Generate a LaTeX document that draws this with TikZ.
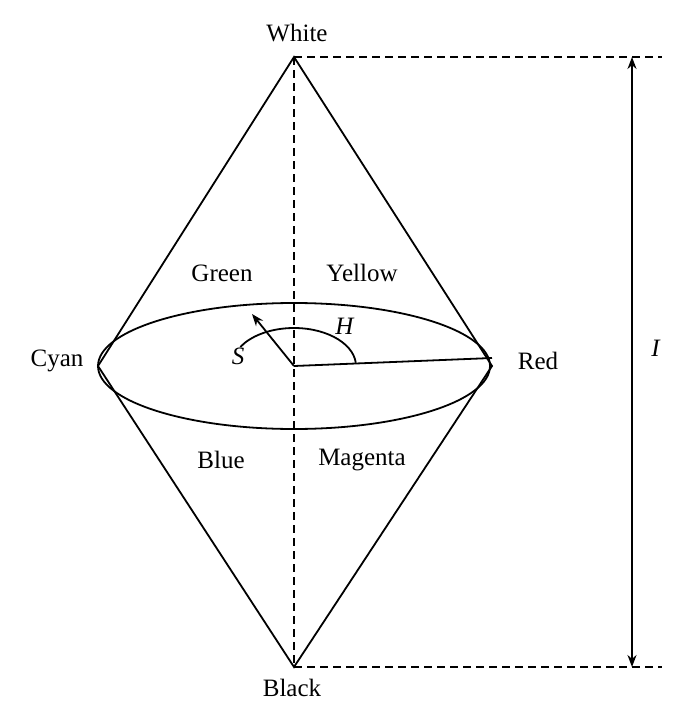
\documentclass[tikz,border=0pt]{standalone}
\usepackage{fontspec}
\setmainfont{Liberation Serif}
\usetikzlibrary{arrows.meta,calc}
\begin{document}
\begin{tikzpicture}[x=1pt,y=-1pt,
  lbl/.style={font=\fontsize{25}{28}\selectfont,inner sep=0pt},
  ln/.style={line width=1.8pt,black},
  dsh/.style={line width=1.5pt,dashed,dash pattern=on 8pt off 5pt}]
\useasboundingbox (0,0) rectangle (688,717);
\coordinate (W) at (294,57);
\coordinate (B) at (294,667);
\coordinate (O) at (294,366);
\coordinate (C) at (98,366);
\coordinate (R) at (492,358);
\coordinate (Cr) at (492,366);
\coordinate (WR) at (662,57);
\coordinate (BR) at (662,667);
\coordinate (IT) at (632,57);
\coordinate (IB) at (632,667);
\coordinate (Sp) at (252,314);
\draw[ln] (O) ellipse [x radius=196, y radius=63];
\draw[ln] (C) -- (W) -- (Cr) -- (B) -- cycle;
\draw[dsh] (W) -- (B);
\draw[dsh] (W) -- (WR);
\draw[dsh] (B) -- (BR);
\draw[ln,{Stealth[length=12pt,width=9pt]}-{Stealth[length=12pt,width=9pt]}] (IT) -- (IB);
\draw[ln] (O) -- (R);
\draw[ln,-{Stealth[length=12pt,width=9pt]}] (O) -- (Sp);
\draw[ln] ($(O)+(-5:62 and 38)$) arc[start angle=-5, end angle=-150, x radius=62, y radius=38];
\node[lbl] (tW) at (297,33) {White};
\node[lbl] (tBk) at (292,688) {Black};
\node[lbl] (tG) at (222,273) {Green};
\node[lbl] (tY) at (362,273) {Yellow};
\node[lbl] (tC) at (57,361) {Cyan};
\node[lbl] (tR) at (538,361) {Red};
\node[lbl] (tBl) at (221,460) {Blue};
\node[lbl] (tM) at (362,460) {Magenta};
\node[lbl] (tS) at (238,356) {\textit{S}};
\node[lbl] (tH) at (345,326) {\textit{H}};
\node[lbl] (tI) at (656,348) {\textit{I}};
\end{tikzpicture}
\end{document}
